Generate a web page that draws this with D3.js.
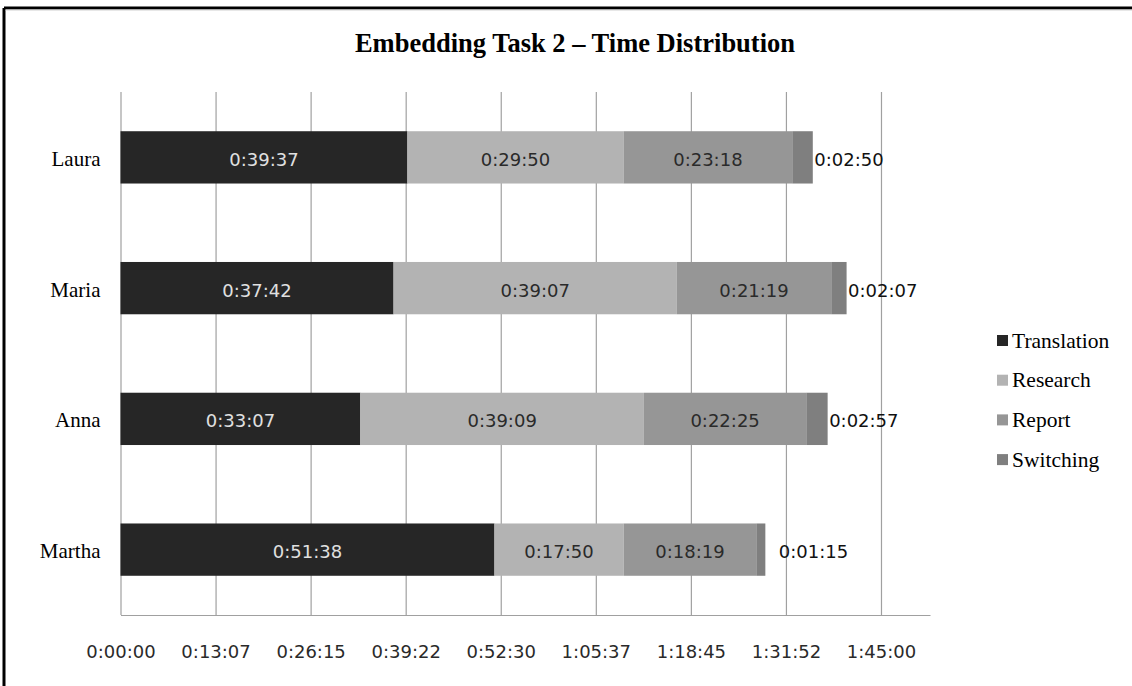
<!DOCTYPE html>
<html>
<head>
<meta charset="utf-8">
<script src="https://cdn.jsdelivr.net/npm/d3@7"></script>
<style>
  html, body { margin: 0; padding: 0; background: #fff; }
  svg { display: block; }
</style>
</head>
<body>
<svg id="chart" width="1132" height="686"></svg>
<script>
// ---- data ----
const title = "Embedding Task 2 \u2013 Time Distribution";
const people = ["Laura", "Maria", "Anna", "Martha"];
const seriesNames = ["Translation", "Research", "Report", "Switching"];
const translation = ["0:39:37", "0:37:42", "0:33:07", "0:51:38"];
const research    = ["0:29:50", "0:39:07", "0:39:09", "0:17:50"];
const report      = ["0:23:18", "0:21:19", "0:22:25", "0:18:19"];
const switching   = ["0:02:50", "0:02:07", "0:02:57", "0:01:15"];
const tickLabels = ["0:00:00", "0:13:07", "0:26:15", "0:39:22", "0:52:30", "1:05:37", "1:18:45", "1:31:52", "1:45:00"];
const tickStepSec = 787.5;      // 13:07.5
const axisMaxSec = 6706;        // axis line runs a little past 1:45:00

// ---- styles / layout ----
const colors = ["#262626", "#b3b3b3", "#969696", "#7f7f7f"];
const labelColors = ["#e0e0e0", "#2a2a2a", "#2a2a2a", "#111"];
const switchLabelNudge = { Martha: 12 };
const serif = "'Liberation Serif', 'Times New Roman', serif";
const sans = "'DejaVu Sans', Verdana, sans-serif";

const toSec = s => { const p = s.split(":").map(Number); return p[0]*3600 + p[1]*60 + p[2]; };
const seriesData = [translation, research, report, switching];

const rows = people.map((name, i) => {
  const vals = seriesData.map(arr => toSec(arr[i]));
  const labels = seriesData.map(arr => arr[i]);
  return { name, vals, labels };
});

const svg = d3.select("#chart");
const plot = { left: 120.5, right: 930, top: 92, bottom: 615 };

const x = d3.scaleLinear().domain([0, axisMaxSec]).range([plot.left, plot.right]);
const y = d3.scaleBand().domain(people).range([plot.top, plot.bottom]).paddingInner(0.6).paddingOuter(0.3);

// frame
svg.append("line").attr("x1", 4).attr("y1", 8).attr("x2", 1132).attr("y2", 8)
  .attr("stroke", "#000").attr("stroke-width", 3);
svg.append("line").attr("x1", 4).attr("y1", 8).attr("x2", 4).attr("y2", 686)
  .attr("stroke", "#000").attr("stroke-width", 3);
svg.append("line").attr("x1", 5.5).attr("y1", 10).attr("x2", 1132).attr("y2", 10)
  .attr("stroke", "#cfcfcf").attr("stroke-width", 1);

// title
svg.append("text").attr("x", 575).attr("y", 52).attr("text-anchor", "middle")
  .attr("font-family", serif).attr("font-weight", "bold").attr("font-size", 26.5)
  .attr("fill", "#000").text(title);

// gridlines + axis
const tickVals = tickLabels.map((_, i) => i * tickStepSec);
const xAxis = d3.axisBottom(x).tickValues(tickVals).tickFormat((d, i) => tickLabels[i])
  .tickSize(-(plot.bottom - plot.top)).tickSizeOuter(0).tickPadding(0);
const gx = svg.append("g").attr("transform", `translate(0,${plot.bottom})`).call(xAxis);
gx.select(".domain").attr("stroke", "#a0a0a0").attr("stroke-width", 1.2);
gx.selectAll(".tick line").attr("stroke", "#a0a0a0").attr("stroke-width", 1.2);
gx.selectAll(".tick text").attr("y", 43).attr("dy", 0)
  .attr("font-family", sans).attr("font-size", 18).attr("fill", "#2a2a2a");

// category labels
svg.append("g").selectAll("text").data(people).join("text")
  .attr("x", 100.5).attr("y", d => y(d) + y.bandwidth()/2 + 8.5)
  .attr("text-anchor", "end").attr("font-family", serif).attr("font-size", 21)
  .attr("fill", "#000").text(d => d);

// bars
const barG = svg.append("g");
rows.forEach(r => {
  let acc = 0;
  r.vals.forEach((v, j) => {
    const x0 = x(acc), x1 = x(acc + v);
    barG.append("rect").attr("x", x0).attr("y", y(r.name))
      .attr("width", x1 - x0).attr("height", y.bandwidth()).attr("fill", colors[j]);
    const cy = y(r.name) + y.bandwidth()/2 + 8.5;
    if (j < 3) {
      barG.append("text").attr("x", (x0 + x1)/2).attr("y", cy).attr("text-anchor", "middle")
        .attr("font-family", sans).attr("font-size", 18).attr("fill", labelColors[j])
        .text(r.labels[j]);
    } else {
      barG.append("text").attr("x", x1 + 1.5 + (switchLabelNudge[r.name] || 0)).attr("y", cy)
        .attr("text-anchor", "start")
        .attr("font-family", sans).attr("font-size", 18).attr("fill", labelColors[j])
        .text(r.labels[j]);
    }
    acc += v;
  });
});

// legend
const leg = svg.append("g").attr("transform", "translate(997,335)");
seriesNames.forEach((s, i) => {
  const g = leg.append("g").attr("transform", `translate(0,${i*39.7})`);
  g.append("rect").attr("width", 11).attr("height", 11).attr("fill", colors[i]);
  g.append("text").attr("x", 15).attr("y", 12.5).attr("font-family", serif).attr("font-size", 21.5)
    .attr("fill", "#000").text(s);
});
</script>
</body>
</html>
